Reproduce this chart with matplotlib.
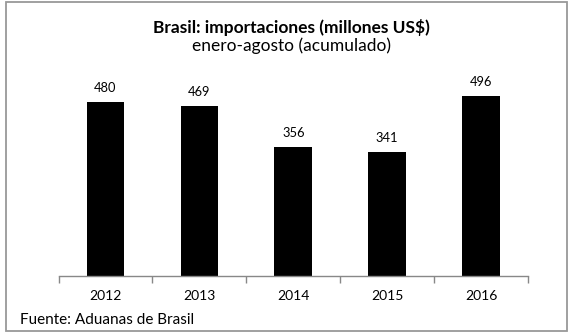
import matplotlib
matplotlib.use("Agg")
import matplotlib.pyplot as plt
from matplotlib.patches import Rectangle

# imports, Jan-Aug cumulative, millions of US$
years = ["2012", "2013", "2014", "2015", "2016"]
imports = [480, 469, 356, 341, 496]

plt.rcParams['font.family'] = ['Lato', 'DejaVu Sans']

fig = plt.figure(figsize=(5.73, 3.35), dpi=100)
W, H = 573, 335

# axes box in pixel terms
left, right, bottom, top = 58.5, 528, 275.5, 58.5
ax = fig.add_axes([left / W, 1 - bottom / H, (right - left) / W, (bottom - top) / H])

x = range(len(years))
ax.bar(x, imports, width=0.4, color="black")
for xi, v in zip(x, imports):
    ax.annotate(str(v), (xi, v), xytext=(0, 10), textcoords="offset points",
                ha="center", va="center", fontsize=9.3)

ax.set_xlim(-0.5, len(years) - 0.5)
ax.set_ylim(0, 600)
ax.set_xticks([i - 0.5 for i in range(len(years) + 1)])
ax.set_xticklabels([])
ax.set_xticks(list(x), minor=True)
ax.set_xticklabels(years, minor=True, fontsize=10)
ax.tick_params(axis="x", which="major", length=5, color="#888888", width=1)
ax.tick_params(axis="x", which="minor", length=0, pad=10.5)
ax.set_yticks([])
for s in ["left", "right", "top"]:
    ax.spines[s].set_visible(False)
ax.spines["bottom"].set_color("#888888")
ax.spines["bottom"].set_linewidth(1)

# titles
fig.text(291 / W, 1 - 27 / H, "Brasil: importaciones (millones US$)",
         ha="center", va="center", fontsize=12.5, fontweight="bold")
fig.text(291 / W, 1 - 46 / H, "enero-agosto (acumulado)",
         ha="center", va="center", fontsize=12.5)
fig.text(20 / W, 1 - 320 / H, "Fuente: Aduanas de Brasil",
         ha="left", va="center", fontsize=11)

# outer frame
fig.patches.append(Rectangle((5.5 / W, 1 - 330.5 / H), 561.5 / W, 329 / H,
                             transform=fig.transFigure, fill=False,
                             edgecolor="#999999", linewidth=1.3))

fig.savefig("out.png", dpi=100)
